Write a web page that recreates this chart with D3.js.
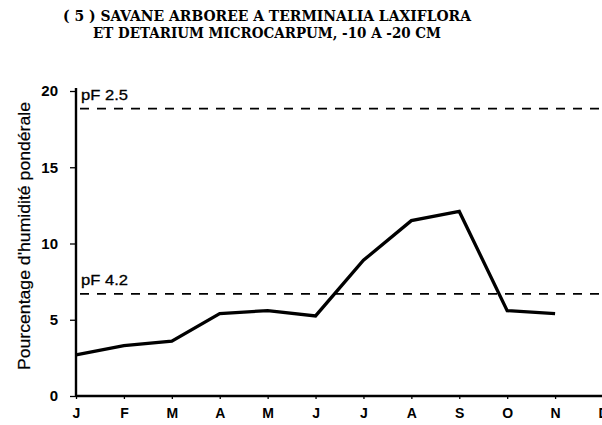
<!DOCTYPE html>
<html>
<head>
<meta charset="utf-8">
<script src="https://cdn.jsdelivr.net/npm/d3@7"></script>
<style>
  body { margin: 0; background: #fff; }
  svg { display: block; }
</style>
</head>
<body>
<svg id="chart" width="602" height="425"></svg>
<script>
// Data
const months = ["J", "F", "M", "A", "M", "J", "J", "A", "S", "O", "N", "D"]
const humidity = [2.7, 3.3, 3.6, 5.4, 5.6, 5.25, 8.9, 11.5, 12.1, 5.6, 5.4]
const yTicks = [0, 5, 10, 15, 20]
const pfNames = ["pF 2.5", "pF 4.2"]
const pfValues = [18.85, 6.7]
const titleLines = ["( 5 )  SAVANE ARBOREE A TERMINALIA LAXIFLORA", "ET DETARIUM MICROCARPUM, -10 A -20 CM"]

const svg = d3.select("#chart")
const plotLeft = 76, plotRight = 603, plotTop = 91, plotBottom = 396

const x = d3.scalePoint().domain(d3.range(months.length)).range([plotLeft, plotRight])
const y = d3.scaleLinear().domain([0, 20]).range([plotBottom, plotTop])

// title
const titleWidths = [408, 348]
const titleBase = [21, 38]
titleLines.forEach((t, i) => {
    svg.append("text")
        .attr("x", 267)
        .attr("y", titleBase[i])
        .attr("text-anchor", "middle")
        .attr("font-family", "DejaVu Serif")
        .attr("font-weight", "bold")
        .attr("font-size", 14)
        .attr("textLength", titleWidths[i])
        .attr("lengthAdjust", "spacingAndGlyphs")
        .text(t)
})

// reference lines (pF)
pfValues.forEach((v, i) => {
    svg.append("line")
        .attr("x1", plotLeft).attr("x2", 602)
        .attr("y1", y(v)).attr("y2", y(v))
        .attr("stroke", "#000")
        .attr("stroke-width", 1.7)
        .attr("stroke-dasharray", "9,8")
        .attr("stroke-dashoffset", -4)
    svg.append("text")
        .attr("x", 81)
        .attr("y", y(v) - 9)
        .attr("font-family", "Liberation Sans, Arial, sans-serif")
        .attr("font-size", 15)
        .attr("stroke", "#000")
        .attr("stroke-width", 0.3)
        .attr("textLength", 47)
        .attr("lengthAdjust", "spacingAndGlyphs")
        .text(pfNames[i])
})

// axes
const yAxis = d3.axisLeft(y).tickValues(yTicks).tickSize(6).tickPadding(12)
const gy = svg.append("g").attr("transform", `translate(${plotLeft},0)`).call(yAxis)
gy.select(".domain").remove()
gy.selectAll("line").attr("stroke-width", 1.3)
gy.selectAll("text")
    .attr("font-family", "Liberation Sans, Arial, sans-serif")
    .attr("font-weight", "bold")
    .attr("font-size", 15)
    .attr("fill", "#000")

const xAxis = d3.axisBottom(x).tickFormat(i => months[i]).tickSize(3).tickPadding(9)
const gx = svg.append("g").attr("transform", `translate(0,${plotBottom})`).call(xAxis)
gx.select(".domain").remove()
gx.selectAll("line").attr("stroke-width", 1.3)
gx.selectAll("text")
    .attr("font-family", "Liberation Sans, Arial, sans-serif")
    .attr("font-weight", "bold")
    .attr("font-size", 14)
    .attr("fill", "#000")

// axis lines
svg.append("line")
    .attr("x1", plotLeft).attr("x2", plotLeft)
    .attr("y1", 88).attr("y2", plotBottom + 1)
    .attr("stroke", "#000").attr("stroke-width", 2.4)
svg.append("line")
    .attr("x1", plotLeft).attr("x2", 602)
    .attr("y1", plotBottom).attr("y2", plotBottom)
    .attr("stroke", "#000").attr("stroke-width", 2.4)

// y title
svg.append("text")
    .attr("transform", `translate(30,236) rotate(-90)`)
    .attr("text-anchor", "middle")
    .attr("font-family", "Liberation Sans, Arial, sans-serif")
    .attr("font-size", 16)
    .attr("stroke", "#000")
    .attr("stroke-width", 0.2)
    .attr("textLength", 268)
    .attr("lengthAdjust", "spacingAndGlyphs")
    .text("Pourcentage d'humidité pondérale")

// data line
const line = d3.line()
    .x((d, i) => x(i))
    .y(d => y(d))
svg.append("path")
    .datum(humidity)
    .attr("d", line)
    .attr("fill", "none")
    .attr("stroke", "#000")
    .attr("stroke-width", 3.3)
    .attr("stroke-linejoin", "miter")
</script>
</body>
</html>
